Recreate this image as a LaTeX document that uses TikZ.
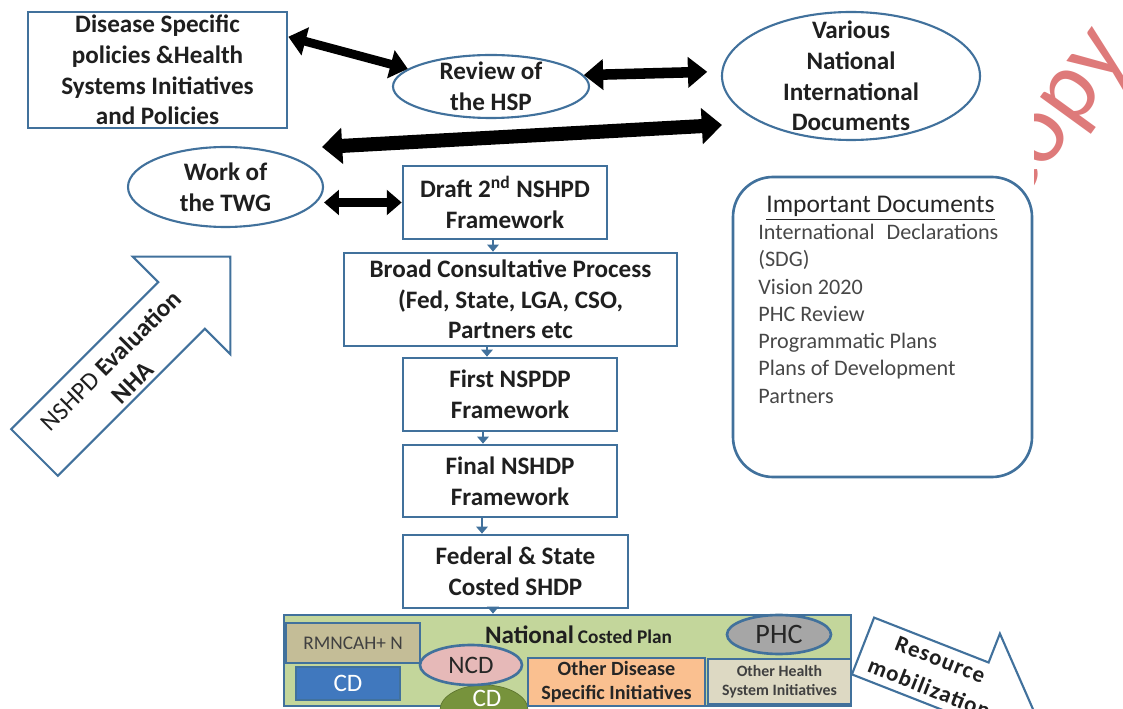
\documentclass[tikz,border=0pt]{standalone}
\usepackage{fontspec}
\setmainfont{Carlito}
\usetikzlibrary{arrows.meta,calc,positioning,shapes.geometric}

\definecolor{frame}{RGB}{65,113,156}
\definecolor{planfill}{RGB}{195,214,155}
\definecolor{rmnfill}{RGB}{196,189,151}
\definecolor{cdblue}{RGB}{64,120,190}
\definecolor{ncdpink}{RGB}{230,185,184}
\definecolor{cdgreen}{RGB}{119,147,60}
\definecolor{orangefill}{RGB}{250,192,144}
\definecolor{hsfill}{RGB}{221,217,195}
\definecolor{phcgray}{RGB}{166,166,166}
\definecolor{wmred}{RGB}{222,122,122}

% one unit = one pixel of the layout
\newdimen\pxu \pxu=0.02cm

\begin{document}
\begin{tikzpicture}
    [x=0.02cm, y=-0.02cm,
    lbl/.style={font=\bfseries\fontsize{14.3}{17.5}\selectfont, text=black!88, align=center},
    stage/.style={lbl, draw=frame, line width=1.5pt, fill=white, inner sep=0pt},
    bubble/.style={ellipse, draw=frame, line width=1.2pt, fill=white, inner sep=0pt},
    part/.style={draw=frame, line width=1.5pt, inner sep=0pt},
    link/.style={draw=frame, line width=1.4pt, -{Triangle[length=4pt,width=6.5pt]}},
    bothway/.style n args={3}{line width=#1, {Triangle[length=#2,width=#3]}-{Triangle[length=#2,width=#3]}},
    block/.style={draw=frame, line width=1.2pt, fill=white, line join=miter}]

    \useasboundingbox (0,0) rectangle (1123,709);
    \clip (0,0) rectangle (1123,709);

    % watermark, mostly hidden
    \begin{scope}
      \clip (1034,0) rectangle (1123,200);
      \node[text=wmred, rotate=54, font=\fontsize{56}{56}\selectfont] (mark) at (1062,120) {copy};
    \end{scope}

    % inputs
    \node[stage, minimum width=259\pxu, minimum height=116\pxu] (disease) at (157.5,70)
    {Disease Specific\\policies \&Health\\Systems Initiatives\\and Policies};
    \node[bubble, minimum width=196\pxu, minimum height=63\pxu] (review) at (491,86.5) {};
    \node[lbl] (reviewtext) at (review) {Review of\\the HSP};
    \node[bubble, minimum width=258\pxu, minimum height=128\pxu] (various) at (851,76) {};
    \node[lbl] (varioustext) at (various) {Various\\National\\International\\Documents};
    \node[bubble, minimum width=195\pxu, minimum height=80\pxu] (twg) at (225.5,187) {};
    \node[lbl] (twgtext) at (twg) {Work of\\the TWG};

    % main flow
    \node[stage, minimum width=204\pxu, minimum height=73\pxu] (draft) at (505,202.5)
    {Draft 2\textsuperscript{nd} NSHPD\\Framework};
    \node[stage, minimum width=333\pxu, minimum height=93\pxu] (broad) at (510.5,299.5)
    {Broad Consultative Process\\(Fed, State, LGA, CSO,\\Partners etc};
    \node[stage, minimum width=214\pxu, minimum height=73\pxu] (first) at (510,394.5)
    {First NSPDP\\Framework};
    \node[stage, minimum width=214\pxu, minimum height=72\pxu] (final) at (510,481)
    {Final NSHDP\\Framework};
    \node[stage, minimum width=225\pxu, minimum height=73\pxu] (federal) at (515.5,571.5)
    {Federal \& State\\Costed SHDP};

    % costed plan
    \node[part, fill=planfill, minimum width=567\pxu, minimum height=91\pxu] (plan) at (567.5,660.5) {};
    \node[font=\bfseries, text=black!88, anchor=base] (plantitle) at (578.5,643)
    {{\fontsize{14.3}{17}\selectfont National} {\fontsize{11}{13}\selectfont Costed Plan}};
    \node[part, fill=rmnfill, minimum width=134\pxu, minimum height=40\pxu,
      font=\fontsize{11}{13}\selectfont, text=black!75] (rmncah) at (353,643) {RMNCAH+ N};
    \node[part, fill=cdblue, minimum width=104\pxu, minimum height=33\pxu,
      font=\fontsize{14.3}{17}\selectfont, text=white] (cdbox) at (348,683.5) {CD};
    \node[ellipse, fill=cdgreen, draw=cdgreen!80!black, inner sep=0pt,
      minimum width=88\pxu, minimum height=50\pxu] (cdblob) at (484,710) {};
    \node[font=\fontsize{14.3}{17}\selectfont, text=white] (cdblobtext) at (487,698) {CD};
    \node[ellipse, part, fill=ncdpink, minimum width=102\pxu, minimum height=40\pxu] (ncd) at (471,665) {};
    \node[font=\fontsize{14.3}{17}\selectfont, text=black!85] (ncdtext) at (ncd) {NCD};
    \node[part, fill=orangefill, minimum width=177\pxu, minimum height=48\pxu, align=center,
      font=\bfseries\fontsize{11.5}{13.2}\selectfont, text=black!85] (otherdis) at (616.5,682)
    {Other Disease\\Specific Initiatives};
    \node[part, fill=hsfill, minimum width=143\pxu, minimum height=45\pxu, align=center,
      font=\bfseries\fontsize{9}{10.8}\selectfont, text=black!75] (otherhs) at (779.5,681.5)
    {Other Health\\System Initiatives};
    \node[ellipse, part, fill=phcgray, minimum width=104\pxu, minimum height=39\pxu] (phc) at (779,634.5) {};
    \node[font=\fontsize{16}{19}\selectfont, text=black!85] (phctext) at (phc) {PHC};

    % list of documents
    \node[part, rounded corners=40\pxu, minimum width=299\pxu, minimum height=300\pxu] (docs) at (882.5,327) {};
    \node[font=\fontsize{14.5}{17}\selectfont, text=black!85, anchor=base] (doctitle) at (880.5,213)
    {\underline{Important Documents}};
    \node[font=\fontsize{12.6}{15.5}\selectfont, text=black!72, align=justify, text width=240\pxu,
      anchor=north west, inner sep=0pt] (doclist) at (758,224)
    {International Declarations (SDG)\\Vision 2020\\PHC Review\\Programmatic Plans\\Plans of Development\\Partners};

    % side arrows
    \draw[block] (11.2,429.2) -- (158.3,282.1) -- (132.8,256.6) -- (230.3,256.7)
      -- (230.4,354.2) -- (204.9,328.7) -- (57.8,475.8) -- cycle;
    \node[rotate=45, align=center, font=\fontsize{14.3}{17.5}\selectfont, text=black!88] (evaltext) at (121.4,371.2)
    {NSHPD \textbf{Evaluation}\\\textbf{NHA}};
    \draw[block] (874.1,617.6) -- (988.6,662.5) -- (999.9,633.6) -- (1034.8,713.3)
      -- (955.1,748.2) -- (966.4,719.3) -- (851.9,674.4) -- cycle;
    \node[rotate=-21.4, align=center, font=\bfseries\fontsize{13}{17.5}\selectfont\addfontfeature{LetterSpace=5},
      text=black!88] (restext) at (934.7,674.1) {Resource\\mobilization};

    % exchanges
    \coordinate (longL) at (322,147);
    \coordinate (longR) at (722,125);
    \draw[bothway={5pt}{10pt}{16pt}] ($(disease.north east)!0.22!(disease.south east)$) -- (review.168);
    \draw[bothway={6pt}{11pt}{17pt}, shorten >=14\pxu] (review.7) -- (various.178);
    \draw[bothway={8pt}{11.5pt}{20pt}] (longL) -- (longR);
    \draw[bothway={5pt}{8.5pt}{14pt}] (twg.east |- draft.west) -- (draft.west);

    % flow links
    \coordinate (l1) at ($(draft.south)+(-12,0)$);
    \coordinate (l2) at ($(broad.south)+(-23.5,0)$);
    \coordinate (l3) at ($(first.south)+(-27,0)$);
    \coordinate (l4) at ($(final.south)+(-28,0)$);
    \coordinate (l5) at ($(federal.south)+(-22.5,0)$);
    \draw[link] (l1) -- (l1 |- broad.north);
    \draw[link] (l2) -- (l2 |- first.north);
    \draw[link] (l3) -- (l3 |- final.north);
    \draw[link] (l4) -- (l4 |- federal.north);
    \draw[link] (l5) -- (l5 |- plan.north);
\end{tikzpicture}
\end{document}
